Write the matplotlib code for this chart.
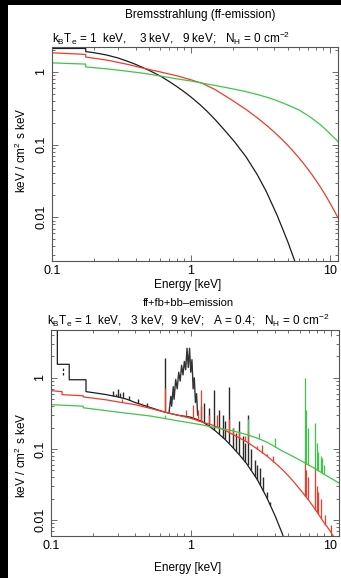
import numpy as np
import matplotlib
matplotlib.use("Agg")
import matplotlib.pyplot as plt
from matplotlib.patches import Rectangle
from matplotlib.ticker import FixedLocator, FuncFormatter, LogLocator, NullFormatter

plt.rcParams['font.family'] = ['Liberation Sans', 'DejaVu Sans']
plt.rcParams['mathtext.fontset'] = 'custom'
plt.rcParams['mathtext.rm'] = 'Liberation Sans'
plt.rcParams['mathtext.default'] = 'regular'

# ---------------- data: top panel (ff emission) ----------------
top_black_E = [0.1, 0.175, 0.175, 0.2, 0.25, 0.3, 0.35, 0.4, 0.45, 0.5, 0.55, 0.62, 0.7, 0.8, 0.9, 1.0, 1.15, 1.3, 1.5,
               1.75, 2.06, 2.5, 3.0, 3.5, 4.2, 5.0, 5.7, 6.2]
top_black_v = [2.1, 2.1, 1.9, 1.84, 1.70, 1.55, 1.40, 1.27, 1.15, 1.05, 0.96, 0.85, 0.736, 0.621, 0.529, 0.453, 0.362, 0.291,
               0.22, 0.158, 0.11, 0.0678, 0.0391, 0.0226, 0.0105, 0.0046, 0.0023, 0.0014]
top_red_E = [0.1, 0.175, 0.175, 0.25, 0.35, 0.45, 0.6, 0.8, 1.0, 1.21, 1.5, 2.0, 2.5, 3.0, 3.5, 4.0, 4.5, 5.0, 5.5, 6.0,
             6.5, 7.0, 7.5, 8.0, 8.5, 9.0, 9.5, 10.0, 10.5, 11.0, 11.5]
top_red_v = [1.83, 1.74, 1.6, 1.45, 1.27, 1.13, 1.0, 0.88, 0.78, 0.695, 0.57, 0.404, 0.304, 0.235, 0.1854, 0.1482, 0.1198,
             0.0976, 0.0801, 0.0661, 0.0548, 0.0456, 0.0381, 0.0319, 0.0268, 0.0226, 0.019, 0.0161, 0.0136, 0.01155, 0.0098]
top_green_E = [0.1, 0.175, 0.175, 0.25, 0.35, 0.45, 0.62, 0.8, 1.0, 1.21, 1.5, 2.0, 2.5, 3.0, 3.5, 4.0, 4.5, 5.0, 5.5,
               6.1, 6.5, 7.0, 7.5, 8.0, 8.5, 9.0, 9.5, 10.0, 10.6, 11.0, 11.5]
top_green_v = [1.33, 1.28, 1.17, 1.1, 1.02, 0.96, 0.87, 0.8, 0.75, 0.70, 0.65, 0.585, 0.535, 0.49, 0.45, 0.415, 0.38,
               0.35, 0.323, 0.295, 0.273, 0.25, 0.228, 0.208, 0.19, 0.173, 0.157, 0.143, 0.128, 0.12, 0.11]

# ---------------- data: bottom panel (ff+fb+bb) ----------------
bot_black_E = [0.1, 0.111, 0.111, 0.135, 0.135, 0.178, 0.178, 0.2, 0.25, 0.3, 0.35, 0.4, 0.5, 0.65, 0.8, 1.0, 1.2,
               1.35, 1.5, 1.75, 2.0, 2.25, 2.5, 3.0, 3.5, 4.0, 4.5, 5.0]
bot_black_v = [8.0, 8.0, 1.55, 1.55, 0.94, 0.94, 0.64, 0.62, 0.58, 0.54, 0.5, 0.45, 0.39, 0.33, 0.3, 0.28, 0.245,
               0.21, 0.18, 0.138, 0.105, 0.081, 0.063, 0.037, 0.0208, 0.0117, 0.0066, 0.0037]
bot_red_E = [0.1, 0.12, 0.12, 0.17, 0.17, 0.25, 0.3, 0.4, 0.52, 0.65, 0.8, 1.0, 1.2, 1.4, 1.7, 2.0, 2.5, 3.0, 3.5, 4.0,
             4.5, 5.0, 5.5, 6.0, 6.5, 7.0, 7.5, 8.0, 8.5, 9.0, 9.5, 10.0, 10.5, 11.0, 11.5]
bot_red_v = [0.66, 0.64, 0.58, 0.56, 0.54, 0.49, 0.46, 0.42, 0.37, 0.33, 0.3, 0.27, 0.24, 0.22, 0.19, 0.16, 0.127, 0.1,
             0.08, 0.064, 0.052, 0.042, 0.034, 0.0276, 0.0228, 0.0189, 0.0157, 0.013, 0.0109, 0.0092, 0.008, 0.0069,
             0.0059, 0.005, 0.0043]
bot_green_E = [0.1, 0.17, 0.17, 0.3, 0.52, 0.8, 1.18, 1.5, 2.0, 2.5, 3.0, 3.5, 4.0, 4.5, 5.0, 5.5, 6.1, 6.5, 7.0, 7.5,
               8.0, 8.5, 9.0, 9.5, 10.0, 10.5, 11.0, 11.6]
bot_green_v = [0.42, 0.4, 0.38, 0.33, 0.29, 0.25, 0.22, 0.2, 0.18, 0.16, 0.142, 0.125, 0.108, 0.094, 0.085, 0.077,
               0.069, 0.0645, 0.0595, 0.055, 0.051, 0.0475, 0.044, 0.0415, 0.039, 0.037, 0.035, 0.033]

# Fe L complex of the 1 keV spectrum
feL_E = [0.70, 0.72, 0.73, 0.75, 0.76, 0.78, 0.80, 0.82, 0.84, 0.86, 0.88, 0.90, 0.92, 0.94, 0.96, 0.98, 1.00, 1.02,
         1.04, 1.06, 1.08, 1.10, 1.12]
feL_v = [0.33, 0.55, 0.4, 0.75, 0.5, 0.95, 0.7, 1.2, 0.9, 1.5, 1.1, 1.7, 1.3, 2.6, 1.4, 2.6, 1.2, 1.8, 0.7, 1.0, 0.45,
         0.6, 0.3]

# emission lines (energy, peak value)
black_line_E = [0.28, 0.29, 0.30, 0.31, 0.33, 0.36, 0.42, 0.49, 0.65, 1.18, 1.25, 1.35, 1.46, 1.6, 1.7, 1.75, 1.87, 2.0,
                2.1, 2.2, 2.35, 2.45, 2.55, 2.7, 2.9, 3.0, 3.15, 3.3, 3.5, 3.7]
black_line_v = [0.66, 0.6, 0.7, 0.62, 0.64, 0.56, 0.5, 0.44, 1.9, 0.4, 0.45, 0.38, 0.68, 0.35, 0.3, 0.25, 0.75, 0.2,
                0.17, 0.25, 0.15, 0.12, 0.30, 0.1, 0.07, 0.06, 0.055, 0.04, 0.025, 0.018]
red_line_E = [0.32, 0.45, 0.65, 0.92, 1.03, 1.12, 1.18, 1.35, 1.55, 1.87, 2.0, 2.2, 2.45, 2.55, 3.0, 3.25, 3.5, 3.9,
              6.6, 6.7, 6.9, 7.8, 8.0, 8.2, 8.5, 9.2, 10.0]
red_line_v = [0.5, 0.45, 0.72, 0.35, 0.42, 0.35, 0.68, 0.3, 0.30, 0.26, 0.2, 0.18, 0.15, 0.18, 0.11, 0.115, 0.085,
              0.08, 0.078, 0.05, 0.04, 0.057, 0.03, 0.025, 0.02, 0.012, 0.0085]
green_line_E = [0.65, 2.0, 2.55, 3.1, 4.0, 6.6, 6.7, 6.9, 7.7, 8.0, 8.2, 8.5, 8.7, 9.0]
green_line_v = [0.30, 0.2, 0.26, 0.17, 0.145, 1.0, 0.35, 0.2, 0.23, 0.12, 0.09, 0.08, 0.075, 0.06]

BLACK = '#1c1c1c'
RED = '#ee3b2b'
GREEN = '#3ec64a'
W, H = 341, 578

fig = plt.figure(figsize=(W / 100, H / 100), dpi=100, facecolor='black')
fig.add_artist(Rectangle((8 / W, 0), (W - 8) / W, (H - 5) / H, transform=fig.transFigure,
                         facecolor='white', edgecolor='none', zorder=-10))


def style(ax, ylim):
    ax.set_xscale('log')
    ax.set_yscale('log')
    ax.set_xlim(0.1, 11.5)
    ax.set_ylim(*ylim)
    ax.xaxis.set_major_locator(FixedLocator([0.1, 1, 10]))
    ax.xaxis.set_major_formatter(FuncFormatter(lambda v, p: '%g' % v))
    ax.xaxis.set_minor_locator(LogLocator(base=10, subs=np.arange(2, 10)))
    ax.xaxis.set_minor_formatter(NullFormatter())
    ax.yaxis.set_major_locator(FixedLocator([0.001, 0.01, 0.1, 1]))
    ax.yaxis.set_major_formatter(FuncFormatter(lambda v, p: '%g' % v))
    ax.yaxis.set_minor_locator(LogLocator(base=10, subs=np.arange(2, 10)))
    ax.yaxis.set_minor_formatter(NullFormatter())
    ax.tick_params(which='both', direction='in', top=True, right=True, color='#555555', width=0.6)
    ax.tick_params(which='major', length=4.5, labelsize=9, pad=3)
    ax.tick_params(which='minor', length=2.2)
    ax.tick_params(axis='y', which='major', pad=3.5)
    for lab in ax.get_yticklabels():
        lab.set_rotation(90)
        lab.set_va('center')
    for s in ax.spines.values():
        s.set_color('#555555')
        s.set_linewidth(0.8)


def base_of(E, cE, cv):
    return 10 ** np.interp(np.log10(E), np.log10(cE), np.log10(cv))


# ---- top panel ----
ax1 = fig.add_axes([52 / W, 1 - 261 / H, 286 / W, 214 / H])
ax1.plot(top_black_E, top_black_v, color=BLACK, lw=0.9)
ax1.plot(top_red_E, top_red_v, color=RED, lw=0.9)
ax1.plot(top_green_E, top_green_v, color=GREEN, lw=0.9)
style(ax1, (0.0025, 2.2))

# ---- bottom panel ----
ax2 = fig.add_axes([51 / W, 1 - 536 / H, 288 / W, 206 / H])
ax2.plot(bot_black_E, bot_black_v, color=BLACK, lw=0.9)
ax2.plot(feL_E, feL_v, color='#333333', lw=1.0)
ax2.vlines(black_line_E, base_of(black_line_E, bot_black_E, bot_black_v), black_line_v, color='#2a2a2a', lw=1.0)
ax2.vlines([0.122], [1.1], [1.38], color=BLACK, lw=0.9, linestyles=(0, (2, 1.5)))
ax2.plot(bot_red_E, bot_red_v, color=RED, lw=0.9)
ax2.vlines(red_line_E, base_of(red_line_E, bot_red_E, bot_red_v), red_line_v, color=RED, lw=0.9)
ax2.plot(bot_green_E, bot_green_v, color=GREEN, lw=0.9)
ax2.vlines(green_line_E, base_of(green_line_E, bot_green_E, bot_green_v), green_line_v, color=GREEN, lw=0.9)
style(ax2, (0.006, 4.7))

# ---- texts ----
fs = 8.5
fig.text(200 / W, 1 - 15 / H, 'Bremsstrahlung (ff-emission)', ha='center', va='center', fontsize=fs)
fig.text(52 / W, 1 - 38 / H, r'k$_B$T$_e$ = 1  keV,    3 keV,   9 keV;   N$_H$ = 0 cm$^{-2}$',
         ha='left', va='center', fontsize=fs)
fig.text(188 / W, 1 - 285 / H, 'Energy [keV]', ha='center', va='center', fontsize=fs)
fig.text(188 / W, 1 - 303 / H, 'ff+fb+bb\u2013emission', ha='center', va='center', fontsize=8)
fig.text(47 / W, 1 - 320 / H, r'k$_B$T$_e$ = 1  keV,   3 keV,  9 keV;   A = 0.4;   N$_H$ = 0 cm$^{-2}$',
         ha='left', va='center', fontsize=fs)
fig.text(188 / W, 1 - 568 / H, 'Energy [keV]', ha='center', va='center', fontsize=fs)
ylab = r'keV / cm$^2$ s keV'
fig.text(21 / W, 1 - 150 / H, ylab, ha='center', va='center', rotation=90, fontsize=fs)
fig.text(21 / W, 1 - 455 / H, ylab, ha='center', va='center', rotation=90, fontsize=fs)

fig.savefig('out.png', dpi=100, facecolor='black')
